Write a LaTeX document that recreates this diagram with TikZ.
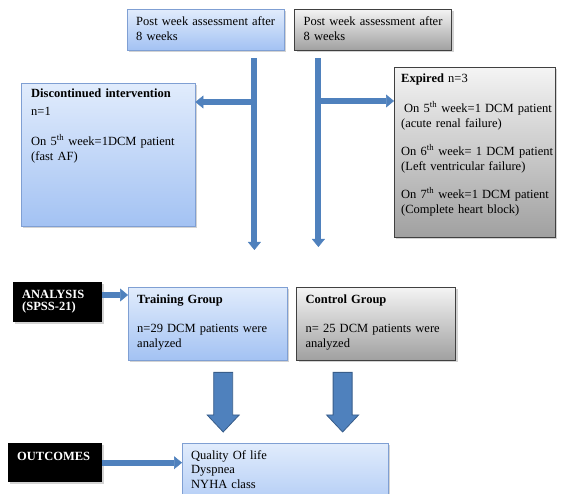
\documentclass[tikz,border=0pt]{standalone}
\usepackage{fontspec}
\setmainfont{Liberation Serif}
\usepackage{tikz}
\usetikzlibrary{shapes,arrows.meta,shadows,positioning,calc}

\definecolor{arrowfill}{HTML}{4F81BD}
\definecolor{arrowedge}{HTML}{385D8A}
\definecolor{bluetop}{HTML}{E1ECFC}
\definecolor{bluebot}{HTML}{A3C2F3}
\definecolor{blueedge}{HTML}{7F9FD3}
\definecolor{greytop}{HTML}{F4F4F4}
\definecolor{greybot}{HTML}{A0A0A0}

% wide block arrow pointing down, from #1 to the tip #2
\newcommand{\fatarrow}[2]{%
  \filldraw[blockarrow] ($(#1)+(-9.5,0)$) -- ($(#2)+(-9.5,-17)$) -- ($(#2)+(-16,-17)$) -- (#2)
    -- ($(#2)+(16,-17)$) -- ($(#2)+(9.5,-17)$) -- ($(#1)+(9.5,0)$) -- cycle;}

\begin{document}
\begin{tikzpicture}[x=1pt,y=-1pt,font=\fontsize{12.5}{15}\selectfont]
\tikzstyle{box}=[anchor=north west, align=left, inner ysep=0pt, inner xsep=9pt, text height=16pt,
  drop shadow={shadow xshift=2pt,shadow yshift=-2pt,opacity=.35}]
\tikzstyle{bluebox}=[draw=blueedge, top color=bluetop, bottom color=bluebot]
\tikzstyle{greybox}=[draw=black!75, top color=greytop, bottom color=greybot]
\tikzstyle{blackbox}=[fill=black, text=white, font=\fontsize{12.5}{15}\selectfont\bfseries]
\tikzstyle{slimarrow}=[draw=arrowfill, line width=6pt, -{Triangle[width=13pt,length=8pt,line width=0.5pt]}]
\tikzstyle{blockarrow}=[fill=arrowfill, draw=arrowedge, line width=0.8pt, line join=miter]

\useasboundingbox (0,0) rectangle (568,494);
\clip (0,0) rectangle (568,494);

% assessment
\node[box,bluebox,text width=139pt,text depth=25pt] (post1) at (127,9) {Post week assessment after\\8 weeks};
\node[box,greybox,text width=139pt,text depth=25pt,right=10pt of post1] (post2) {Post week assessment after\\8 weeks};

\node[box,bluebox,inner xsep=10pt,text width=154pt,text height=14pt,text depth=129pt] (discont) at (21,83)
  {\textbf{Discontinued intervention}\\[3pt]n=1\\[15pt]\mbox{On 5\textsuperscript{th} week=1DCM patient}\\(fast AF)};
\node[box,greybox,inner xsep=7pt,text width=147pt,text height=15pt,text depth=155pt] (expired) at (394,67)
  {\textbf{Expired} n=3\\[15pt]\mbox{\hspace*{3pt}On 5\textsuperscript{th} week=1 DCM patient}\\(acute renal failure)\\[13pt]%
   \mbox{On 6\textsuperscript{th} week= 1 DCM patient}\\(Left ventricular failure)\\[13pt]%
   \mbox{On 7\textsuperscript{th} week=1 DCM patient}\\(Complete heart block)};

% analysis
\node[box,blackbox,text width=71pt,text depth=24pt] (analysis) at (13,282) {ANALYSIS\\[-3pt](SPSS-21)};
\node[box,bluebox,text width=141pt,text depth=57pt] (training) at (128,287)
  {\textbf{Training Group}\\[14pt]n=29 DCM patients were\\analyzed};
\node[box,greybox,text width=141pt,text depth=57pt,right=9pt of training] (control)
  {\textbf{Control Group}\\[14pt]n= 25 DCM patients were\\analyzed};

% outcomes
\node[box,blackbox,text width=76pt,text height=17pt,text depth=22pt] (outcomes) at (8,443) {OUTCOMES};
\node[box,bluebox,text width=188pt,text depth=64pt] (measures) at (182,443)
  {Quality Of life\\[-0.5pt]Dyspnea\\[-0.5pt]NYHA class};

% connectors
\coordinate (lt) at ($(post1.south east)+(-30,8)$);
\coordinate (lb) at ($(lt |- training.north)+(0,-37)$);
\coordinate (dx) at ($(discont.north east)+(0,19)$);
\draw[slimarrow] (lt) -- (lb);
\draw[slimarrow] (lt |- dx) -- (dx);

\coordinate (rt) at ($(post2.south west)+(24,8)$);
\coordinate (rb) at ($(rt |- training.north)+(0,-40)$);
\coordinate (ex) at ($(expired.north west)+(0,34)$);
\draw[slimarrow] (rt) -- (rb);
\draw[slimarrow] (rt |- ex) -- (ex);

\coordinate (an) at ($(analysis.north east)+(0,13)$);
\draw[slimarrow] (an) -- (an -| training.west);
\draw[slimarrow] (outcomes.east) -- (outcomes.east -| measures.west);

\coordinate (ba) at ($(training.south)+(15.5,12)$);
\coordinate (bae) at ($(ba |- measures.north)+(0,-11)$);
\coordinate (bb) at ($(control.south)+(-33.5,12)$);
\coordinate (bbe) at ($(bb |- measures.north)+(0,-11)$);
\fatarrow{ba}{bae}
\fatarrow{bb}{bbe}
\end{tikzpicture}
\end{document}
